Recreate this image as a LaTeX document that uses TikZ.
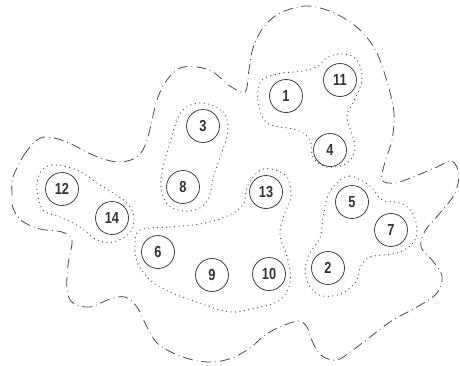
\documentclass[tikz,border=0pt]{standalone}
\usepackage{fontspec}
\setmainfont{Liberation Sans}[FakeStretch=0.8,BoldFeatures={FakeStretch=0.8}]
\begin{document}
\begin{tikzpicture}[x=1pt,y=-1pt,
  num/.style={circle,draw=black!75,line width=0.8pt,minimum size=33pt,inner sep=0pt,
    font=\bfseries\fontsize{16}{16}\selectfont,text=black!80},
  outer/.style={draw=black!70,line width=0.8pt,dash pattern=on 10pt off 4pt on 0.8pt off 4pt},
  group/.style={draw=black!70,line width=1.3pt,line cap=round,dash pattern=on 0pt off 4.5pt}]
\useasboundingbox (0,0) rectangle (460,365);
\fill[white] (0,0) rectangle (460,365);

\draw[outer] plot[smooth cycle,tension=0.55] coordinates {
 (13,177) (24,155) (37,140) (48,137) (67,142) (93,155) (117,162) (137,157) (147,140)
 (157,100) (167,80) (180,68) (197,67) (213,72) (230,86) (245,92) (249,70) (253,48)
 (263,28) (280,13) (305,6) (327,10) (347,20) (363,33) (377,53) (388,85) (394,113)
 (392,140) (385,162) (382,180) (395,183) (413,177) (437,167) (452,161) (459,175)
 (454,195) (440,213) (425,231) (421,247) (432,260) (442,276) (437,293) (417,307)
 (393,320) (370,337) (353,350) (337,360) (322,356) (313,343) (307,327) (298,321)
 (280,327) (265,335) (250,348) (232,358) (213,362) (193,360) (173,353) (157,343)
 (147,327) (137,307) (125,297) (110,299) (90,307) (73,303) (67,290) (68,265)
 (72,240) (62,232) (40,229) (22,221) (13,208) (12,193)};

% group 1,11,4
\draw[group] plot[smooth cycle,tension=0.6] coordinates {
 (260,83) (258,100) (267,123) (297,130) (310,140) (313,157) (327,167) (347,163)
 (355,147) (347,117) (353,103) (362,80) (357,60) (343,54) (328,57) (318,66)
 (303,71) (283,73) (267,77)};
% group 3,8
\draw[group] plot[smooth cycle,tension=0.6] coordinates {
 (203,103) (223,112) (228,130) (222,152) (214,175) (209,197) (200,208) (183,211)
 (167,204) (161,187) (163,167) (170,143) (176,123) (185,108)};
% group 13,6,9,10
\draw[group] plot[smooth cycle,tension=0.6] coordinates {
 (140,230) (170,227) (200,224) (225,217) (243,205) (248,185) (263,169) (285,175)
 (291,196) (284,215) (280,235) (288,260) (290,283) (280,300) (260,307) (230,312)
 (200,303) (170,292) (150,280) (137,262) (135,245)};
% group 12,14
\draw[group] plot[smooth cycle,tension=0.6] coordinates {
 (40,173) (52,165) (77,170) (97,183) (113,193) (127,203) (134,217) (130,233)
 (113,242) (97,240) (80,227) (60,217) (43,210) (37,190)};
% group 5,7,2
\draw[group] plot[smooth cycle,tension=0.6] coordinates {
 (337,183) (350,176) (370,186) (382,200) (400,203) (412,212) (417,228) (413,243)
 (397,253) (370,257) (360,268) (357,280) (343,293) (323,296) (310,287) (305,270)
 (310,253) (320,238) (323,218) (328,195)};

\node[num] (n1) at (286,96) {1};
\node[num] (n11) at (340,80) {11};
\node[num] (n4) at (330,150) {4};
\node[num] (n3) at (203,126) {3};
\node[num] (n8) at (183,187) {8};
\node[num] (n12) at (62,189) {12};
\node[num] (n14) at (112,218) {14};
\node[num] (n6) at (158,252) {6};
\node[num] (n9) at (212,275) {9};
\node[num] (n13) at (266,192) {13};
\node[num] (n10) at (269,274) {10};
\node[num] (n2) at (328,268) {2};
\node[num] (n5) at (352,202) {5};
\node[num] (n7) at (391,230) {7};
\end{tikzpicture}
\end{document}
